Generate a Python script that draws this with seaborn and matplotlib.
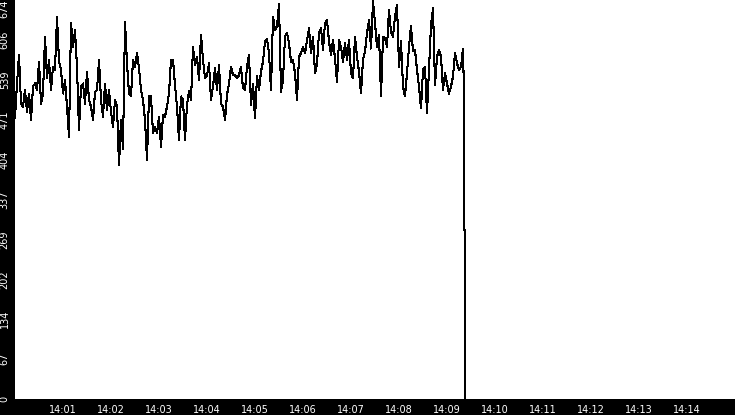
import numpy as np
import pandas as pd
import matplotlib
matplotlib.use("Agg")
import matplotlib.pyplot as plt
import matplotlib.dates as mdates
import seaborn as sns

# ──────────────────────────────────────────────
# DATOS
# ──────────────────────────────────────────────

START = "2024-01-01 14:00:00"
STEP_S = 2.5          # una muestra cada 2.5 s
Y_MAX = 674

valores = [
    474, 533, 581, 499, 494, 522, 485, 516, 471, 528,
    533, 522, 570, 499, 516, 612, 542, 573, 522, 561,
    556, 646, 570, 556, 516, 539, 494, 443, 635, 595,
    623, 561, 454, 528, 533, 499, 553, 505, 494, 471,
    519, 522, 573, 505, 477, 533, 488, 522, 485, 460,
    505, 494, 395, 471, 423, 637, 567, 516, 511, 573,
    561, 584, 559, 522, 505, 471, 404, 511, 511, 449,
    460, 449, 477, 426, 480, 477, 494, 516, 573, 573,
    530, 494, 437, 511, 505, 437, 497, 520, 505, 595,
    564, 578, 539, 615, 573, 542, 547, 567, 505, 528,
    559, 522, 564, 499, 494, 471, 514, 533, 561, 547,
    547, 542, 547, 561, 525, 522, 561, 581,
    497, 533, 474, 545, 522, 553, 570, 604, 608, 584,
    522, 646, 623, 629, 668, 519, 539, 612, 618, 601,
    570, 573, 550, 505, 578, 584, 595, 584, 606, 626,
    584, 612, 550, 567, 618, 626, 590, 635, 640, 604,
    581, 606, 575, 536, 606, 595, 570, 601, 573, 606,
    550, 542, 612, 578, 553, 516, 573, 587, 618, 640,
    592, 672, 635, 595, 615, 511, 612, 609, 595, 657,
    620, 612, 646, 666, 561, 604, 528, 511, 550, 595,
    630, 587, 590, 556, 528, 491, 556, 561, 483, 556,
    632, 660, 530, 578, 590, 578, 522, 550, 533, 516,
    528, 545, 584, 567, 556, 561, 592,
]

# caída final (segundos desde las 14:00 y valores)
caida_seg = [561.3, 561.6, 562.9, 563.0]
caida_val = [511, 285, 285, 0]

y_tick_labels = ["0", "67", "134", "202", "269", "337",
                 "404", "471", "539", "606", "674"]
x_tick_minutos = list(range(1, 15))


# ──────────────────────────────────────────────
# PREPARACIÓN
# ──────────────────────────────────────────────

inicio = pd.Timestamp(START)
segundos = list(np.arange(len(valores)) * STEP_S) + caida_seg
df = pd.DataFrame({
    "tiempo": inicio + pd.to_timedelta(segundos, unit="s"),
    "valor": valores + caida_val,
})

sns.set_style("white")
plt.rcParams["font.family"] = ["DejaVu Sans"]

fig = plt.figure(figsize=(7.35, 4.15), dpi=100, facecolor="black")
ax = fig.add_axes([15 / 735, 16 / 415, 720 / 735, 399 / 415])
ax.set_facecolor("white")

sns.lineplot(data=df, x="tiempo", y="valor", color="black",
             linewidth=0.75, estimator=None, antialiased=False, ax=ax)

# ejes
ax.set_xlim(inicio, inicio + pd.Timedelta(minutes=15))
ax.set_ylim(0, Y_MAX)

ax.set_xticks([inicio + pd.Timedelta(minutes=m) for m in x_tick_minutos])
ax.xaxis.set_major_formatter(mdates.DateFormatter("%H:%M"))
ax.set_yticks(np.linspace(0, Y_MAX, len(y_tick_labels)))
ax.set_yticklabels(y_tick_labels, rotation=90, va="center")

ax.tick_params(axis="x", colors="white", labelsize=7, length=4,
               width=1, pad=0.5, direction="out")
ax.tick_params(axis="y", colors="white", labelsize=7, length=3,
               width=1, pad=0.8, direction="out")

# la etiqueta superior se baja para que no quede cortada
ax.get_yticklabels()[-1].set_va("top")

ax.set_xlabel("")
ax.set_ylabel("")
for s in ax.spines.values():
    s.set_visible(False)
ax.grid(False)

fig.savefig("out.png", dpi=100, facecolor="black")
